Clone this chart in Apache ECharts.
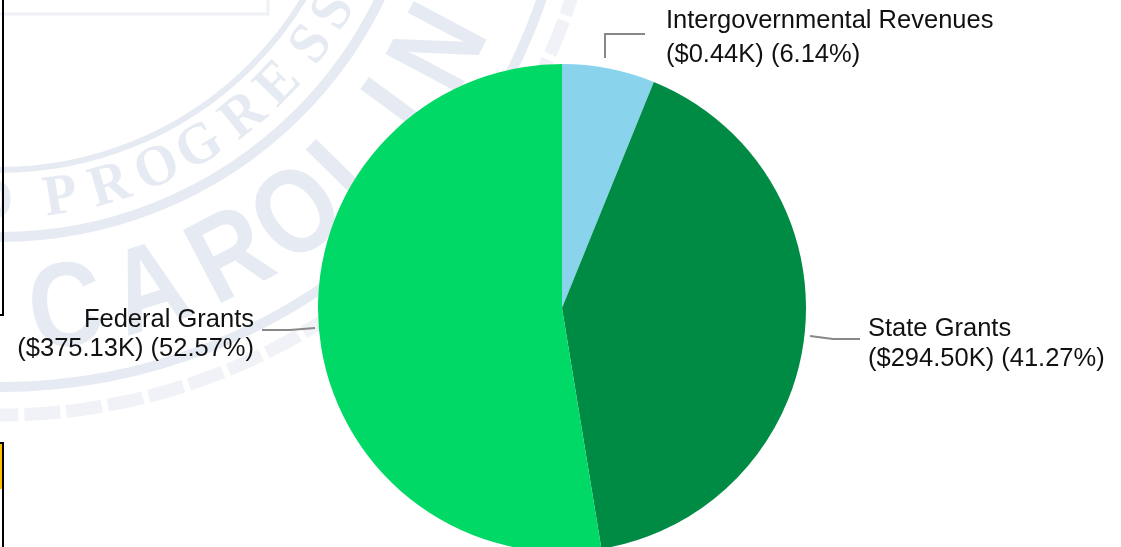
<!DOCTYPE html>
<html><head><meta charset="utf-8">
<style>html,body{margin:0;padding:0;background:#fff}#c{width:1121px;height:547px}</style>
<script src="https://cdn.jsdelivr.net/npm/echarts@6/dist/echarts.min.js"></script>
</head><body><div id="c"></div>
<script>
const categories = ['Intergovernmental Revenues','State Grants','Federal Grants'];
const sharePercent = [6.14,41.27,52.57];
const amountLabels = ['$0.44K','$294.50K','$375.13K'];
const sliceColors = ['#89d3ec','#008b45','#00d965'];
const labelAnchors = [[666,4,'left',34],[868,314,'left',30],[254,305,'right',29]];
const leaderLines = [
  [[605,58],[605,34],[645,34]],
  [[810,336],[833,339],[860,339]],
  [[315,328],[290,330],[262,330]]
];
const sealCenter = [0,-185];
const sealColor = '#e6eaf2';
const sealRings = [[355,6],[422,10],[572,10]];
const sealWordA = {font:'bold 120px "Liberation Sans"',scaleX:0.85,radius:502,letters:['C','A','R','O','L','I','N','A'],angles:[7.6,17.5,27.6,36.7,45.5,53.7,62,74]};
const sealWordB = {font:'bold 58px "Liberation Serif"',scaleX:0.95,radius:388,letters:['D','P','R','O','G','R','E','S','S'],angles:[-1,9,16.5,24,31,39,46,53.6,59.5]};

const sealGraphics = [];
sealRings.forEach(r=>sealGraphics.push({type:'circle',z:-10,shape:{cx:sealCenter[0],cy:sealCenter[1],r:r[0]},style:{fill:'none',stroke:sealColor,lineWidth:r[1]}}));
sealGraphics.push({type:'circle',z:-10,shape:{cx:sealCenter[0],cy:sealCenter[1],r:600},style:{fill:'none',stroke:'#f0f2f7',lineWidth:13,lineDash:[36,6]}});
sealGraphics.push({type:'rect',z:-10,shape:{x:-5,y:-20,width:273,height:34},style:{fill:'none',stroke:'#eff1f6',lineWidth:3}});
[sealWordA,sealWordB].forEach(w=>w.letters.forEach((ch,i)=>{
  const t=w.angles[i]*Math.PI/180;
  sealGraphics.push({type:'text',z:-10,x:sealCenter[0]+w.radius*Math.sin(t),y:sealCenter[1]+w.radius*Math.cos(t),rotation:t,scaleX:w.scaleX,
    style:{text:ch,font:w.font,fill:sealColor,align:'center',verticalAlign:'middle'}});
}));
const frameGraphics = [
  {type:'polyline',z:-5,shape:{points:[[3,-2],[3,315],[-2,315]]},style:{fill:'none',stroke:'#000',lineWidth:2}},
  {type:'rect',z:-5,shape:{x:0,y:444,width:2,height:45},style:{fill:'#ffc000'}},
  {type:'polyline',z:-5,shape:{points:[[-2,443],[3,443],[3,549]]},style:{fill:'none',stroke:'#000',lineWidth:2}}
];

const chart = echarts.init(document.getElementById('c'),null,{renderer:'canvas'});
chart.setOption({
  animation:false,
  backgroundColor:'#ffffff',
  graphic:{elements:sealGraphics.concat(frameGraphics)},
  series:[{
    type:'pie',
    center:[562,308],
    radius:[0,244],
    startAngle:90,
    clockwise:true,
    avoidLabelOverlap:false,
    data:categories.map((n,i)=>({name:n,value:sharePercent[i],itemStyle:{color:sliceColors[i]},
      label:{lineHeight:labelAnchors[i][3],align:labelAnchors[i][2]}})),
    label:{show:true,position:'outside',fontFamily:'"Liberation Sans",Arial,sans-serif',fontSize:25.5,color:'#111',
      formatter:p=>p.name+'\n('+amountLabels[p.dataIndex]+') ('+sharePercent[p.dataIndex].toFixed(2)+'%)'},
    labelLine:{show:true,lineStyle:{color:'#888888',width:2}},
    labelLayout:p=>({x:labelAnchors[p.dataIndex][0],y:labelAnchors[p.dataIndex][1],align:labelAnchors[p.dataIndex][2],verticalAlign:'top',labelLinePoints:leaderLines[p.dataIndex]}),
    emphasis:{disabled:true}
  }]
});
</script></body></html>
